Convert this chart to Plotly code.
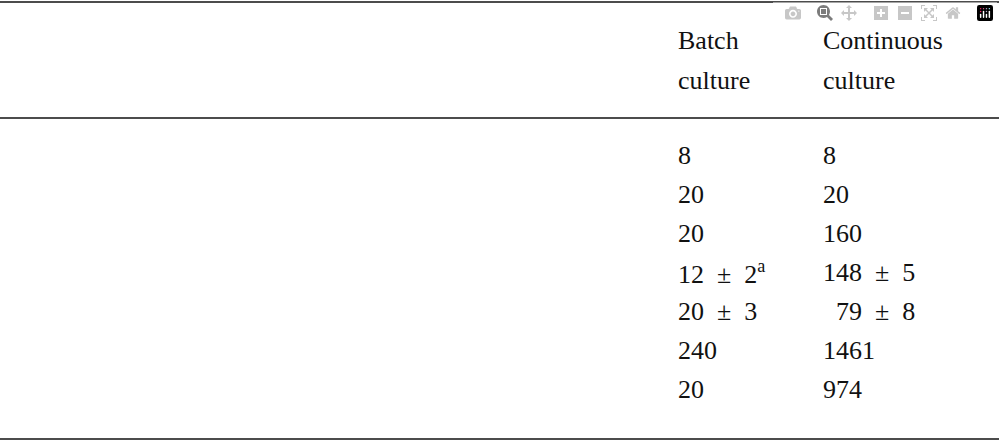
import plotly.graph_objects as go

headers1 = ["", "Batch", "Continuous"]
headers2 = ["", "culture", "culture"]
labels = ["Culture time (h)", "Working volume (l)", "Amount of medium (l)",
          "Cell concentration (g/l)", "Average PNPase activity (u/g)",
          "Productivity based on medium (u/l)", "Volumetric productivity of fermentor (u/hl)"]
batch = ["8", "20", "20", "12\u00a0\u00a0\u00b1\u00a0\u00a02<sup>a</sup>", "20\u00a0\u00a0\u00b1\u00a0\u00a03", "240", "20"]
continuous = ["8", "20", "160", "148\u00a0\u00a0\u00b1\u00a0\u00a05", "\u00a0\u00a079\u00a0\u00a0\u00b1\u00a0\u00a08", "1461", "974"]

W, H = 999, 443
font = dict(family="Liberation Serif", size=26, color="#111")
fig = go.Figure()
fig.update_layout(width=W, height=H, margin=dict(l=0, r=0, t=0, b=0),
                  paper_bgcolor="white", plot_bgcolor="white",
                  xaxis=dict(visible=False, range=[0, W]),
                  yaxis=dict(visible=False, range=[H, 0]))
cols_x = [-2, 676, 821]
def ann(x, y, t):
    fig.add_annotation(x=x, y=y, text=t, showarrow=False, xanchor="left",
                       yanchor="middle", font=font, align="left")
for x, h1, h2 in zip(cols_x, headers1, headers2):
    if h1:
        ann(x, 40, h1); ann(x, 80, h2)
row_y0, dy = 155, 39
for i, (a, b, c) in enumerate(zip(labels, batch, continuous)):
    y = row_y0 + i * dy
    ann(cols_x[0], y, a); ann(cols_x[1], y, b); ann(cols_x[2], y, c)
for y in [2, 118, 439]:
    fig.add_shape(type="line", x0=0, x1=W, y0=y, y1=y, line=dict(color="#111", width=1.5))
fig.write_html("out.html", post_script="document.body.style.margin='0';document.body.style.overflow='hidden';")
